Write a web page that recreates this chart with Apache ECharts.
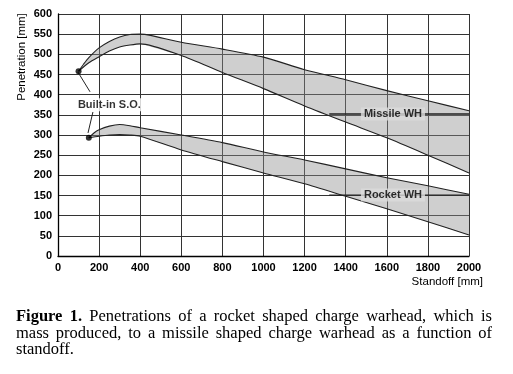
<!DOCTYPE html>
<html><head><meta charset="utf-8">
<script src="https://cdn.jsdelivr.net/npm/echarts@6/dist/echarts.min.js"></script>
<style>html,body{margin:0;padding:0;background:#fff}#c{width:513px;height:374px}</style>
</head><body><div id="c"></div>
<script>
// Data (standoff mm, penetration mm)
const xTicks = [0,200,400,600,800,1000,1200,1400,1600,1800,2000];
const yTicks = [0,50,100,150,200,250,300,350,400,450,500,550,600];
const missileUpperX = [100,125,150,200,250,300,350,400,450,600,800,1000,1200,1400,1600,1800,2000];
const missileUpperY = [458,476,492,516,532,543,549,550,547,530,513,493,462,437,410,385,360];
const missileLowerX = [100,150,200,250,300,350,400,600,800,1000,1200,1400,1600,1800,2000];
const missileLowerY = [458,479,494,508,518,523,526,497,455,415,372,332,293,250,206];
const rocketUpperX = [150,175,200,250,300,350,400,600,800,1000,1200,1400,1600,1800,2000];
const rocketUpperY = [293,305,313,322,326,323,318,300,281,258,238,216,194,174,153];
const rocketLowerX = [150,200,250,300,350,400,600,800,1000,1200,1400,1600,1800,2000];
const rocketLowerY = [293,297,300,301,300,297,263,234,206,179,148,117,85,52];
const builtInX = [100,150];
const builtInY = [458,293];
const bandLabels = ['Missile WH','Rocket WH'];
const bandLabelX = [1630,1630];
const bandLabelY = [352,151];
const captionLines = [
  'Figure 1. Penetrations of a rocket shaped charge warhead, which is',
  'mass produced, to a missile shaped charge warhead as a function of',
  'standoff.'
];

const zip = (xs, ys) => xs.map((x,i)=>[x, ys[i]]);
const mU = zip(missileUpperX, missileUpperY), mL = zip(missileLowerX, missileLowerY);
const rU = zip(rocketUpperX, rocketUpperY), rL = zip(rocketLowerX, rocketLowerY);

const chart = echarts.init(document.getElementById('c'), null, {renderer:'canvas'});
const SANS = 'Liberation Sans, Arial, Helvetica, sans-serif';
const SERIF = 'Liberation Serif, Times New Roman, serif';

function bandSeries(upper, lower) {
  return {
    type: 'custom', silent: true, z: 1,
    data: [0],
    renderItem: (params, api) => {
      const pts = upper.concat(lower.slice().reverse()).map(p => api.coord(p));
      return { type: 'polygon', shape: { points: pts }, style: { fill: 'rgba(140,140,140,0.42)', stroke: 'none' } };
    }
  };
}
const edge = (d) => ({ type: 'line', data: d, symbol: 'none', smooth: 0.25, z: 3,
  lineStyle: { color: '#222', width: 1.1 } });

// caption with justified lines
const mctx = document.createElement('canvas').getContext('2d');
const capLeft = 16, capRight = 492, capFs = 16.5, capY = [317, 334, 350];
const captionGraphics = [];
captionLines.forEach((line, li) => {
  const words = line.split(' ');
  const fonts = words.map((w, wi) => (li === 0 && wi < 2) ? `bold ${capFs}px ${SERIF}` : `${capFs}px ${SERIF}`);
  const widths = words.map((w, wi) => { mctx.font = fonts[wi]; return mctx.measureText(w).width; });
  const total = widths.reduce((a,b)=>a+b,0);
  mctx.font = `${capFs}px ${SERIF}`;
  const space = mctx.measureText(' ').width;
  const last = li === captionLines.length - 1;
  const gap = last ? space : (capRight - capLeft - total) / (words.length - 1);
  let x = capLeft;
  words.forEach((w, wi) => {
    captionGraphics.push({ type: 'text', x: x, y: capY[li],
      style: { text: w, font: fonts[wi], fill: '#000', textAlign: 'left', textVerticalAlign: 'middle' } });
    x += widths[wi] + gap;
  });
});

chart.setOption({
  animation: false,
  grid: { left: 58, right: 44, top: 14, bottom: 118, containLabel: false },
  xAxis: {
    type: 'value', min: 0, max: 2000, interval: 200,
    axisLine: { show: true, lineStyle: { color: '#000', width: 1.3 } },
    axisTick: { show: false },
    axisLabel: { color: '#000', fontFamily: SANS, fontWeight: 'bold', fontSize: 11, margin: 6,
      formatter: v => String(v) },
    splitLine: { show: true, lineStyle: { color: '#333', width: 1 } }
  },
  yAxis: {
    type: 'value', min: 0, max: 600, interval: 50,
    axisLine: { show: true, lineStyle: { color: '#000', width: 1.3 } },
    axisTick: { show: false },
    axisLabel: { color: '#000', fontFamily: SANS, fontWeight: 'bold', fontSize: 11, margin: 6,
      formatter: v => String(v) },
    splitLine: { show: true, lineStyle: { color: '#333', width: 1 } }
  },
  series: [
    bandSeries(mU, mL), bandSeries(rU, rL),
    edge(mU), edge(mL), edge(rU), edge(rL),
    { type: 'line', symbol: 'none', z: 4, lineStyle: { color: '#222', width: 1 }, data: [[97,456],[156,407]] },
    { type: 'line', symbol: 'none', z: 4, lineStyle: { color: '#222', width: 1 }, data: [[170,357],[146,305]] },
    { type: 'line', symbol: 'none', z: 4, lineStyle: { color: '#222', width: 1.4 }, data: [[1320,352],[2000,352]] },
    { type: 'line', symbol: 'none', z: 4, lineStyle: { color: '#222', width: 1.4 }, data: [[1320,151],[2000,151]] },
    { type: 'scatter', z: 5, symbolSize: 6, itemStyle: { color: '#000' }, data: zip(builtInX, builtInY) },
    { type: 'scatter', z: 6, symbolSize: 0,
      data: [[250, 375]],
      label: { show: true, position: 'inside', formatter: 'Built-in S.O.', color: '#000',
        fontFamily: SANS, fontWeight: 'bold', fontSize: 11, backgroundColor: '#fff', padding: [1,2] } },
    { type: 'scatter', z: 6, symbolSize: 0,
      data: bandLabelX.map((x,i)=>({ value: [x, bandLabelY[i]], name: bandLabels[i] })),
      label: { show: true, position: 'inside', formatter: '{b}', color: '#000',
        fontFamily: SANS, fontWeight: 'bold', fontSize: 11, backgroundColor: '#dcdcdc', padding: [1,3] } }
  ],
  graphic: [
    { type: 'text', x: 22, y: 57, rotation: Math.PI/2,
      style: { text: 'Penetration [mm]', font: `11.5px ${SANS}`, fill: '#000', textAlign: 'center', textVerticalAlign: 'middle' } },
    { type: 'text', x: 483, y: 282,
      style: { text: 'Standoff [mm]', font: `11.5px ${SANS}`, fill: '#000', textAlign: 'right', textVerticalAlign: 'middle' } }
  ].concat(captionGraphics)
});
</script></body></html>
